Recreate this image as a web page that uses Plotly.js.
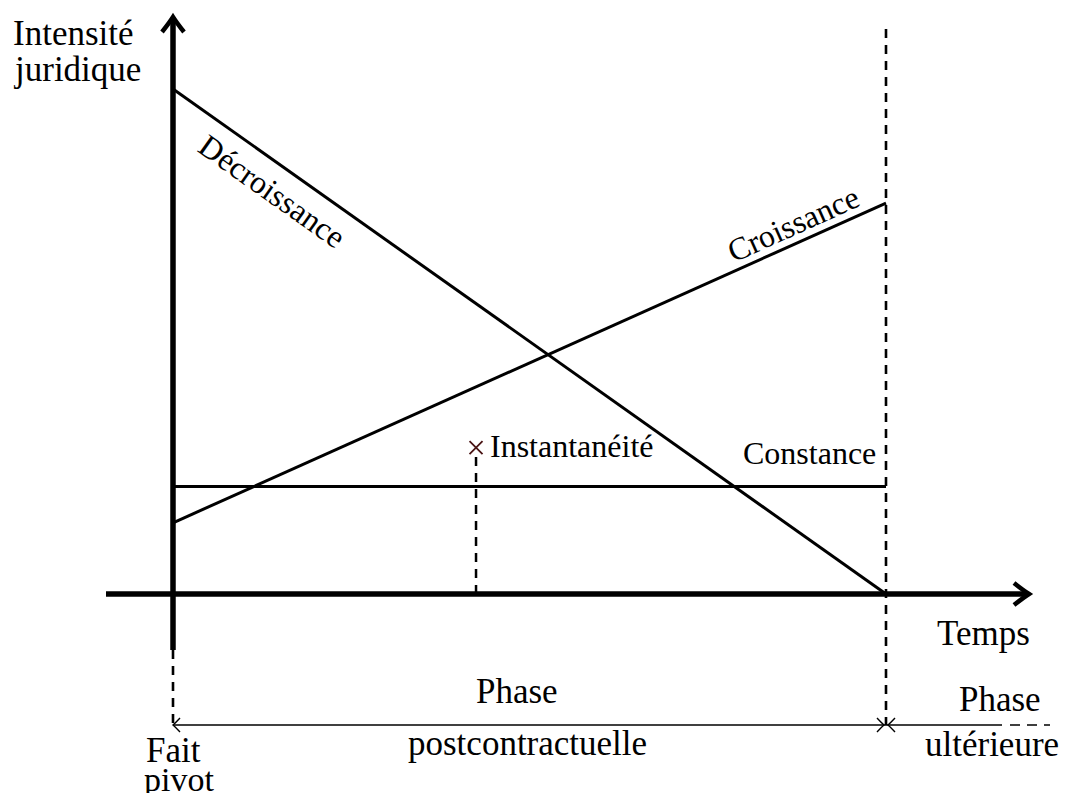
<!DOCTYPE html>
<html><head><meta charset="utf-8">
<script src="https://cdn.plot.ly/plotly-3.0.1.min.js"></script>
<style>body{margin:0;background:#fff}#c{width:1066px;height:793px}</style>
</head><body><div id="c"></div><script>
// ---- data (arbitrary units: time 0..10, intensity 0..10) ----
const timeX = [0, 10];
const decroissance = [10, 0];
const croissance = [1.41, 7.74];
const constance = [2.13, 2.13];
const instantX = [4.25];
const instantY = [2.9];
const curveLabels = ["Décroissance", "Croissance", "Constance", "Instantanéité"];
const axisLabels = ["Intensité", "juridique", "Temps"];
const phaseLabels = ["Phase", "postcontractuelle", "Phase", "ultérieure", "Fait", "pivot"];

// ---- scale helpers (pixel <-> data) ----
const W = 1066, H = 793, OX = 173, OY = 594, SX = 71.3, SY = 50.5;
const X = p => (p - OX) / SX;
const Y = p => (OY - p) / SY;
const FONT = "Liberation Serif, Times New Roman, serif";

const traces = [
  {x: timeX, y: decroissance, mode: "lines", line: {color: "#000", width: 3}},
  {x: timeX, y: croissance, mode: "lines", line: {color: "#000", width: 3}},
  {x: timeX, y: constance, mode: "lines", line: {color: "#000", width: 3}},
  {x: [instantX[0], instantX[0]], y: [0, instantY[0] - 9 / SY], mode: "lines",
   line: {color: "#000", width: 2.5, dash: "9px,7px"}},
  {x: instantX, y: instantY, mode: "markers",
   marker: {symbol: "x-thin-open", size: 13, color: "#4a1414", line: {color: "#4a1414", width: 1.8}}}
];

// chevron arrowhead path (pixel offsets converted to data)
function chevron(tx, ty, dir, len, half) {
  const tpx = OX + tx * SX, tpy = OY - ty * SY;
  let a1, a2, c1, c2;
  if (dir === 'up') {
    a1 = [tpx - half, tpy + len]; a2 = [tpx + half, tpy + len];
    c1 = [tpx - half * 0.35, tpy + len * 0.4]; c2 = [tpx + half * 0.35, tpy + len * 0.4];
  } else if (dir === 'right') {
    a1 = [tpx - len, tpy - half]; a2 = [tpx - len, tpy + half];
    c1 = [tpx - len * 0.4, tpy - half * 0.35]; c2 = [tpx - len * 0.4, tpy + half * 0.35];
  } else {
    a1 = [tpx + len, tpy - half]; a2 = [tpx + len, tpy + half];
    c1 = [tpx + len * 0.4, tpy - half * 0.35]; c2 = [tpx + len * 0.4, tpy + half * 0.35];
  }
  const f = p => X(p[0]) + "," + Y(p[1]);
  return "M" + f(a1) + " Q" + f(c1) + " " + f([tpx, tpy]) + " Q" + f(c2) + " " + f(a2);
}

const tEnd = timeX[1];
const yTop = Y(17), yBottom = Y(650), xLeft = X(106), xRight = X(1029);
const yRow = Y(725), yDashTop = Y(29);
const DASH = {color: "#000", width: 2.6, dash: "9px,7px"};

const shapes = [
  // axes
  {type: "line", x0: 0, x1: 0, y0: yBottom, y1: yTop - 2 / SY, line: {color: "#000", width: 5.5}},
  {type: "line", x0: xLeft, x1: xRight - 2 / SX, y0: 0, y1: 0, line: {color: "#000", width: 5.5}},
  {type: "path", path: chevron(0, yTop, 'up', 15, 11), line: {color: "#000", width: 4.5}},
  {type: "path", path: chevron(xRight, 0, 'right', 15, 11), line: {color: "#000", width: 4.5}},
  // dashed verticals
  {type: "line", x0: tEnd, x1: tEnd, y0: yDashTop, y1: yRow, line: DASH},
  {type: "line", x0: 0, x1: 0, y0: yBottom, y1: yRow, line: DASH},
  // phase arrows
  {type: "line", x0: 0, x1: tEnd, y0: yRow, y1: yRow, line: {color: "#000", width: 1.4}},
  {type: "path", path: chevron(0, yRow, 'left', 7, 7), line: {color: "#000", width: 1.4}},
  {type: "path", path: chevron(tEnd - 2 / SX, yRow, 'right', 7, 7), line: {color: "#000", width: 1.4}},
  {type: "line", x0: tEnd, x1: X(1002), y0: yRow, y1: yRow, line: {color: "#000", width: 1.4}},
  {type: "path", path: chevron(tEnd + 2 / SX, yRow, 'left', 7, 7), line: {color: "#000", width: 1.4}},
  {type: "line", x0: X(1010), x1: X(1050), y0: yRow, y1: yRow, line: {color: "#000", width: 1.4, dash: "10px,7px"}}
];

const ann = (text, px, py, size, opt) => Object.assign({
  text: text, x: X(px), y: Y(py), xref: "x", yref: "y", showarrow: false,
  font: {family: FONT, size: size, color: "#000"}, xanchor: "center", yanchor: "middle"
}, opt || {});

const annotations = [
  ann(axisLabels[0], 11, 33, 35, {xanchor: "left"}),
  ann(axisLabels[1], 11, 69, 35, {xanchor: "left"}),
  ann(axisLabels[2], 983, 633, 35),
  ann(phaseLabels[0], 517, 691, 35),
  ann(phaseLabels[1], 527, 743, 35),
  ann(phaseLabels[2], 1000, 699, 35),
  ann(phaseLabels[3], 992, 744, 35),
  ann(phaseLabels[4], 173, 750, 35),
  ann(phaseLabels[5], 179, 779, 34),
  ann(curveLabels[0], 272, 191, 32, {textangle: 35.3}),
  ann(curveLabels[1], 793, 224, 32, {textangle: -24.2}),
  ann(curveLabels[2], 809, 453, 32),
  ann(curveLabels[3], 488, 446, 32, {xanchor: "left"})
];

const layout = {
  width: W, height: H, margin: {l: 0, r: 0, t: 0, b: 0},
  paper_bgcolor: "#fff", plot_bgcolor: "#fff", showlegend: false,
  xaxis: {range: [X(0), X(W)], visible: false, fixedrange: true},
  yaxis: {range: [Y(H), Y(0)], visible: false, fixedrange: true},
  shapes: shapes, annotations: annotations
};
Plotly.newPlot("c", traces, layout, {staticPlot: true});
</script></body></html>
